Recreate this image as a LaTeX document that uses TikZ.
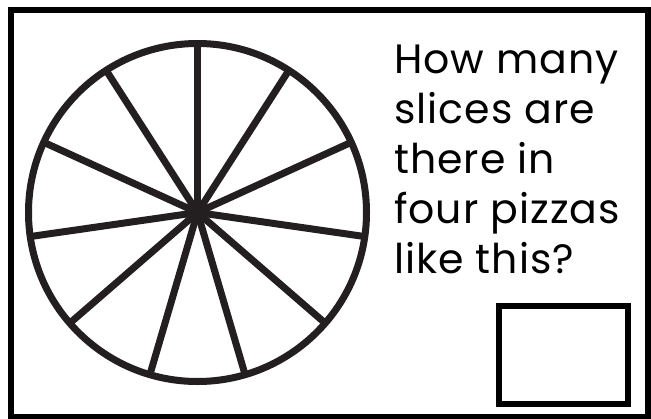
\documentclass[tikz,border=0pt]{standalone}
\usepackage{fontspec}
\setmainfont{Poppins}[LetterSpace=2.5]
\usetikzlibrary{positioning}

\definecolor{inkdark}{HTML}{231F20}

\begin{document}
\begin{tikzpicture}[
    x=1pt, y=-1pt,
    frame/.style={draw=black, line width=6pt},
    pizzaline/.style={draw=inkdark, line width=7pt},
    question/.style={anchor=base west, align=left, inner sep=0pt,
                     font=\fontsize{41}{50}\selectfont},
    answerbox/.style={draw=black, line width=6pt},
]
\useasboundingbox (0,0) rectangle (651,418);

% Outer frame
\draw[frame] (11,10) rectangle (648,417);

% Pizza with 11 slices
\coordinate (hub) at (197.5,212.5);
\draw[pizzaline] (hub) circle[radius=169pt];
\foreach \k in {0,...,10} {
  \draw[pizzaline] (hub) -- ++({90-\k*360/11}:169pt);
}

% Question text (base = last line)
\node[question] (ask) at (394,273) {How many\\slices are\\there in\\four pizzas\\like this?};

% Answer box
\draw[answerbox] (499,306) rectangle (628,404);

\end{tikzpicture}
\end{document}
